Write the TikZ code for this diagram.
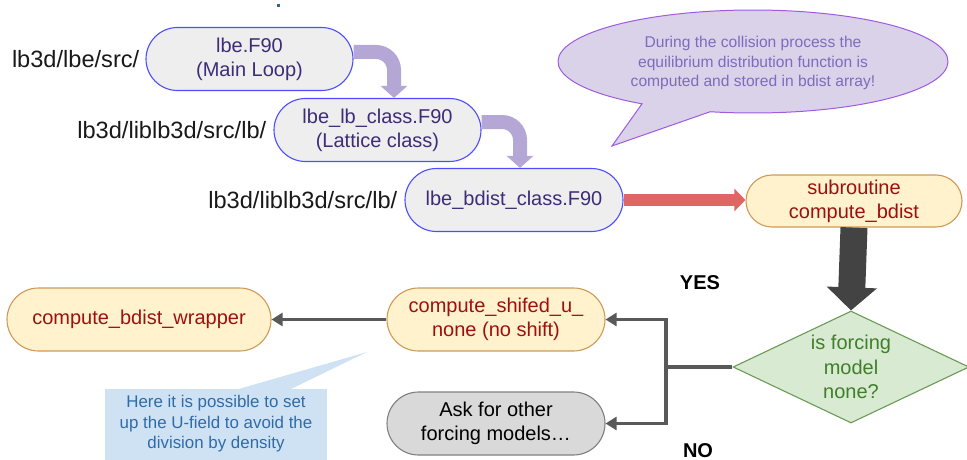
\documentclass[tikz,border=0pt]{standalone}
\usepackage{fontspec}
\setmainfont{Liberation Sans}
\usetikzlibrary{arrows.meta,shapes.geometric,calc}

\definecolor{filefill}{HTML}{EEEEEE}
\definecolor{fileline}{HTML}{4D4DFF}
\definecolor{filetext}{HTML}{3D2C78}
\definecolor{subfill}{HTML}{FFF2CC}
\definecolor{subline}{HTML}{D09A55}
\definecolor{subtext}{HTML}{9C1010}
\definecolor{askfill}{HTML}{D9D9D9}
\definecolor{askline}{HTML}{808080}
\definecolor{decfill}{HTML}{D9EAD3}
\definecolor{decline}{HTML}{6A9B55}
\definecolor{dectext}{HTML}{3F7F2A}
\definecolor{lavender}{HTML}{B4A7D6}
\definecolor{bubfill}{HTML}{D9D2E9}
\definecolor{bubline}{HTML}{A05AE0}
\definecolor{bubtext}{HTML}{7E6BBF}
\definecolor{notefill}{HTML}{CFE2F3}
\definecolor{notetext}{HTML}{2F6BAA}
\definecolor{flowred}{HTML}{E06666}
\definecolor{flowdark}{HTML}{434343}
\definecolor{flowgray}{HTML}{595959}
\definecolor{dotblue}{HTML}{3A5FA0}

\tikzset{
  pill/.style={draw, line width=1.1pt, inner sep=0pt, align=center,
    font=\fontsize{20}{24}\selectfont, minimum height=63pt, rounded corners=31.5pt},
  filebox/.style={pill, fill=filefill, draw=fileline, text=filetext},
  subbox/.style={pill, fill=subfill, draw=subline, text=subtext},
  askbox/.style={pill, fill=askfill, draw=askline, text=black},
  decision/.style={diamond, aspect=2.1, draw=decline, fill=decfill, text=dectext,
    line width=1.1pt, inner sep=0pt, minimum width=236pt, minimum height=112pt,
    align=center, font=\fontsize{20}{24.5}\selectfont},
  pathlabel/.style={anchor=east, inner sep=0pt, text=black!90,
    font=\fontsize{23.6}{28}\selectfont},
  lavarrow/.style={draw=lavender, line width=14pt, rounded corners=18pt,
    -{Triangle[width=26pt,length=12pt]}},
  redarrow/.style={draw=flowred, line width=12pt, -{Triangle[width=22pt,length=11pt]}},
  darkarrow/.style={draw=flowdark, line width=27pt, -{Triangle[width=49pt,length=23pt]}},
  grayarrow/.style={draw=flowgray, line width=3.2pt, -{Triangle[width=13pt,length=11pt]}},
  grayline/.style={draw=flowgray, line width=3.2pt},
  answer/.style={inner sep=0pt, font=\bfseries\fontsize{20}{24}\selectfont},
}

\begin{document}
\begin{tikzpicture}[x=1pt,y=-1pt]
\useasboundingbox (0,0) rectangle (967,460);

% small marker at the top
\fill[dotblue] (277,4) rectangle (280,7);

% speech bubble with its tail
\coordinate (bc) at (753,61.5);
\draw[fill=bubfill, draw=bubline, line width=1pt, line join=miter]
  ($(bc)+(235.3:195pt and 51.5pt)$)
  arc[start angle=235.3, end angle=-102.7, x radius=195pt, y radius=51.5pt]
  -- (612,146) -- cycle;
\node[align=center, text=bubtext, inner sep=0pt,
  font=\fontsize{15.6}{19.2}\selectfont] (bubtxt) at (753,63)
  {During the collision process the\\equilibrium distribution function is\\computed and stored in bdist array!};

% source files
\node[filebox, minimum width=207pt] (lbe) at (249.5,59) {lbe.F90\\(Main Loop)};
\node[filebox, minimum width=207pt] (lblc) at (377.5,130) {lbe\_lb\_class.F90\\(Lattice class)};
\node[filebox, minimum width=218pt] (bdist) at (514,200) {lbe\_bdist\_class.F90};

\node[pathlabel] (p1) at ($(lbe.west)+(-6,0)$) {lb3d/lbe/src/};
\node[pathlabel] (p2) at ($(lblc.west)+(-7,0)$) {lb3d/liblb3d/src/lb/};
\node[pathlabel] (p3) at ($(bdist.west)+(-7,0)$) {lb3d/liblb3d/src/lb/};

% routines
\node[subbox, minimum width=216pt, minimum height=52pt, rounded corners=26pt]
  (sub) at (854,201) {subroutine\\compute\_bdist};
\node[subbox, minimum width=264pt] (wrap) at (139,319.5) {compute\_bdist\_wrapper};
\node[subbox, minimum width=218pt] (shif) at (496,319.5) {compute\_shifed\_u\_\\none (no shift)};
\node[askbox, minimum width=218pt] (ask) at (496,423.5) {Ask for other\\forcing models…};
\node[decision] (dec) at (851,367) {is forcing\\model\\none?};

% call chain
\draw[lavarrow] ($(lbe.east)+(0,-7)$) -| ($(lblc.north)+(16.5,0)$);
\draw[lavarrow] ($(lblc.east)+(0,-8)$) -| ($(bdist.north)+(6,0)$);
\draw[redarrow] (bdist.east) -- (bdist.east -| sub.west);
\draw[darkarrow] (sub.south) -- (dec.north);

% decision branches
\coordinate (fork) at (666,367);
\draw[grayline] (dec.west) -- (fork);
\draw[grayarrow] (fork) |- (shif.east);
\draw[grayarrow] (fork) |- (ask.east);
\draw[grayarrow] (shif.west) -- (wrap.east);

\node[answer] (yes) at (700,283) {YES};
\node[answer] (no) at (698,450.5) {NO};

% note about the velocity field
\fill[notefill] (105,389) rectangle (327,462);
\fill[notefill] (237,389.5) -- (367,352) -- (290,389.5) -- cycle;
\node[align=center, text=notetext, inner sep=0pt,
  font=\fontsize{16.9}{20.5}\selectfont] (note) at (216,424)
  {Here it is possible to set\\up the U-field to avoid the\\division by density};
\end{tikzpicture}
\end{document}
